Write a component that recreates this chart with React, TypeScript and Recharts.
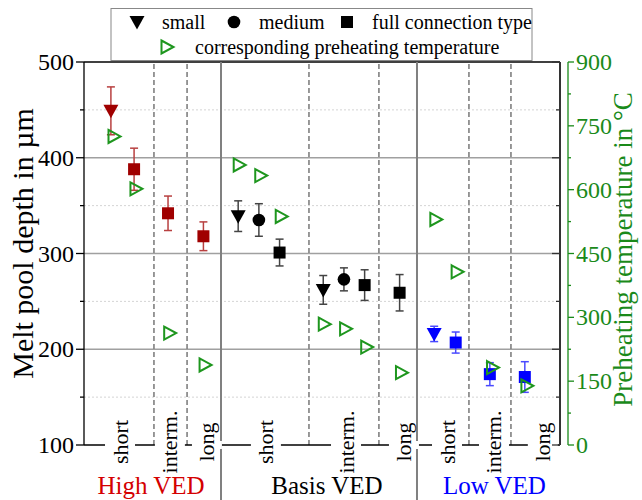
import React from "react";
import { ComposedChart, Scatter, XAxis, YAxis, ErrorBar, ReferenceLine } from "recharts";

const FONT = '"Liberation Serif", "Times New Roman", serif';
const GREEN = "#1e961e";
const AXIS_GREEN = "#1a8a1a";

// category axis in slot units (0..23)
const subTickPos = [1.74, 4.15, 5.94, 8.79, 12.66, 15.46, 17.54, 19.81, 22.17];
const subTickLabels = ["short", "interm.", "long", "short", "interm.", "long", "short", "interm.", "long"];
const groupPos = [3.24, 11.74, 19.83];
const groupLabels = ["High VED", "Basis VED", "Low VED"];
const groupColors = ["#d40000", "#000000", "#0000ff"];
const dashedDividers = [3.38, 4.98, 10.87, 14.25, 18.6, 20.63];
const solidDividers = [6.62, 16.09];

const depthTicks = [100, 150, 200, 250, 300, 350, 400, 450, 500];
const tempTicks = [0, 75, 150, 225, 300, 375, 450, 525, 600, 675, 750, 825, 900];

// melt pool depth in µm (mean, std)
const highSmallX = [1.3];
const highSmallDepth = [449];
const highSmallErr = [25];
const highFullX = [2.42, 4.06, 5.77];
const highFullDepth = [388, 342, 318];
const highFullErr = [22, 18, 15];

const basisSmallX = [7.45, 11.56];
const basisSmallDepth = [339, 262];
const basisSmallErr = [16, 15];
const basisMediumX = [8.45, 12.56];
const basisMediumDepth = [335, 273];
const basisMediumErr = [17, 12];
const basisFullX = [9.45, 13.56, 15.25];
const basisFullDepth = [301, 267, 259];
const basisFullErr = [14, 16, 19];

const lowSmallX = [16.92];
const lowSmallDepth = [216];
const lowSmallErr = [8];
const lowFullX = [17.96, 19.61, 21.3];
const lowFullDepth = [207, 174, 171];
const lowFullErr = [11, 12, 16];

// corresponding preheating temperature in °C
const tempX = [1.45, 2.51, 4.14, 5.85, 7.5, 8.54, 9.53, 11.61, 12.64, 13.66, 15.34, 17.0, 18.03, 19.74, 21.4];
const tempValues = [725, 602, 263, 188, 658, 633, 537, 284, 273, 230, 170, 530, 407, 182, 139];

const legendRow1 = [
  { label: "small", symbol: "down" },
  { label: "medium", symbol: "circle" },
  { label: "full connection type", symbol: "square" },
];
const legendRow2 = [{ label: "corresponding preheating temperature", symbol: "right" }];

type Pt = { x: number; y: number; err?: number };
const toPoints = (xs: number[], ys: number[], errs?: number[]): Pt[] =>
  xs.map((x, i) => ({ x, y: ys[i], err: errs ? errs[i] : undefined }));

const downTri = (color: string) => (p: any) =>
  <path d={`M${p.cx - 7.5},${p.cy - 6}L${p.cx + 7.5},${p.cy - 6}L${p.cx},${p.cy + 7.5}Z`} fill={color} />;
const square = (color: string) => (p: any) =>
  <rect x={p.cx - 6} y={p.cy - 6} width={12} height={12} fill={color} />;
const circle = (color: string) => (p: any) => <circle cx={p.cx} cy={p.cy} r={6.3} fill={color} />;
const rightTri = (p: any) => (
  <path
    d={`M${p.cx - 5.5},${p.cy - 6.5}L${p.cx + 6.5},${p.cy}L${p.cx - 5.5},${p.cy + 6.5}Z`}
    fill="none"
    stroke={GREEN}
    strokeWidth={2}
  />
);

const DepthTick = (props: any) => {
  const { x, y, payload } = props;
  const major = payload.value % 100 === 0;
  return (
    <g>
      <line x1={x} x2={x - (major ? 8 : 4)} y1={y} y2={y} stroke="#000" strokeWidth={1.3} />
      {major && (
        <text x={x - 10} y={y} textAnchor="end" dominantBaseline="central" fontSize={24} fontFamily={FONT} fill="#000">
          {payload.value}
        </text>
      )}
    </g>
  );
};

const FrameTick = (props: any) => {
  const { x, y, payload } = props;
  const major = payload.value % 100 === 0;
  return <line x1={x} x2={x - (major ? 8 : 4)} y1={y} y2={y} stroke="#333" strokeWidth={1.3} />;
};

const TempTick = (props: any) => {
  const { x, y, payload } = props;
  const major = payload.value % 150 === 0;
  return (
    <g>
      <line x1={x} x2={x + (major ? 6 : 3)} y1={y} y2={y} stroke={AXIS_GREEN} strokeWidth={1.3} />
      {major && (
        <text x={x + 8} y={y} textAnchor="start" dominantBaseline="central" fontSize={24} fontFamily={FONT} fill={AXIS_GREEN}>
          {payload.value}
        </text>
      )}
    </g>
  );
};

const SubTick = (props: any) => {
  const { x, y, payload } = props;
  const i = subTickPos.indexOf(payload.value);
  return (
    <g transform={`translate(${x},${y})`}>
      <rect x={-15} y={-4} width={30} height={8} fill="#fff" />
      <text
        transform="translate(0,-3) rotate(-90)"
        textAnchor="middle"
        dominantBaseline="central"
        fontSize={22}
        fontFamily={FONT}
        fill="#000"
      >
        {subTickLabels[i]}
      </text>
    </g>
  );
};

const GroupTick = (props: any) => {
  const { x, y, payload } = props;
  const i = groupPos.indexOf(payload.value);
  return (
    <text x={x} y={y + 19} textAnchor="middle" fontSize={25} fontFamily={FONT} fill={groupColors[i]}>
      {groupLabels[i]}
    </text>
  );
};

const extendedLine = (p: any) => (
  <line x1={p.x1} x2={p.x2} y1={Math.min(p.y1, p.y2)} y2={Math.max(p.y1, p.y2) + 56} stroke="#808080" strokeWidth={2} />
);

const LegendSymbol = ({ kind, cx, cy }: { kind: string; cx: number; cy: number }) => {
  if (kind === "down") return downTri("#000")({ cx, cy });
  if (kind === "circle") return circle("#000")({ cx, cy });
  if (kind === "square") return square("#000")({ cx, cy });
  return rightTri({ cx, cy });
};

function LegendBox() {
  const row1X = [137, 234, 347];
  return (
    <svg width={642} height={64} style={{ position: "absolute", left: 0, top: 0 }}>
      <rect x={111} y={8.5} width={421} height={52} fill="#fff" stroke="#888" strokeWidth={1} />
      {legendRow1.map((item, i) => (
        <g key={item.label}>
          <LegendSymbol kind={item.symbol} cx={row1X[i]} cy={22} />
          <text x={row1X[i] + 25} y={22} dominantBaseline="central" fontSize={20} fontFamily={FONT}>
            {item.label}
          </text>
        </g>
      ))}
      {legendRow2.map((item) => (
        <g key={item.label}>
          <LegendSymbol kind={item.symbol} cx={167} cy={47} />
          <text x={195} y={47} dominantBaseline="central" fontSize={20} fontFamily={FONT}>
            {item.label}
          </text>
        </g>
      ))}
    </svg>
  );
}

export default function App() {
  return (
    <div style={{ position: "absolute", left: 0, top: 0, width: 642, height: 500, background: "#fff" }}>
      <ComposedChart width={642} height={500} margin={{ top: 62, right: 0, bottom: 0, left: 0 }}>
        <XAxis
          xAxisId="cat"
          type="number"
          dataKey="x"
          domain={[0, 23]}
          ticks={subTickPos}
          tick={<SubTick />}
          tickLine={false}
          tickSize={0}
          tickMargin={0}
          height={30}
          axisLine={{ stroke: "#000", strokeWidth: 1.3 }}
          allowDataOverflow
          interval={0}
        />
        <XAxis
          xAxisId="grp"
          type="number"
          dataKey="x"
          domain={[0, 23]}
          ticks={groupPos}
          tick={<GroupTick />}
          tickLine={false}
          tickSize={0}
          tickMargin={0}
          height={25}
          axisLine={false}
          allowDataOverflow
          interval={0}
        />
        <YAxis
          yAxisId="depth"
          domain={[100, 500]}
          ticks={depthTicks}
          tick={<DepthTick />}
          tickLine={false}
          tickSize={0}
          tickMargin={0}
          width={84}
          interval={0}
          axisLine={{ stroke: "#000", strokeWidth: 1.3 }}
          allowDataOverflow
          label={(p: any) => (
            <text
              transform={`translate(22,${p.viewBox.y + p.viewBox.height / 2 - 10}) rotate(-90)`}
              textAnchor="middle"
              dominantBaseline="central"
              fontSize={30}
              fontFamily={FONT}
              fill="#000"
            >
              Melt pool depth in µm
            </text>
          )}
        />
        <YAxis
          yAxisId="frame"
          orientation="right"
          domain={[100, 500]}
          ticks={depthTicks}
          tick={<FrameTick />}
          tickLine={false}
          tickSize={0}
          tickMargin={0}
          width={8}
          interval={0}
          axisLine={{ stroke: "#333", strokeWidth: 2 }}
          allowDataOverflow
        />
        <YAxis
          yAxisId="temp"
          orientation="right"
          domain={[0, 900]}
          ticks={tempTicks}
          tick={<TempTick />}
          tickLine={false}
          tickSize={0}
          tickMargin={0}
          width={74}
          interval={0}
          axisLine={{ stroke: AXIS_GREEN, strokeWidth: 1.3 }}
          allowDataOverflow
          label={(p: any) => (
            <text
              transform={`translate(623,${p.viewBox.y + p.viewBox.height / 2 - 4}) rotate(-90)`}
              textAnchor="middle"
              dominantBaseline="central"
              fontSize={27}
              fontFamily={FONT}
              fill={AXIS_GREEN}
            >
              Preheating temperature in °C
            </text>
          )}
        />

        {[150, 250, 350, 450].map((v) => (
          <ReferenceLine key={`m${v}`} xAxisId="cat" yAxisId="depth" y={v} stroke="#d4d4d4" strokeDasharray="2 2" />
        ))}
        {[200, 300, 400].map((v) => (
          <ReferenceLine key={`M${v}`} xAxisId="cat" yAxisId="depth" y={v} stroke="#a0a0a0" strokeWidth={1.3} />
        ))}
        <ReferenceLine xAxisId="cat" yAxisId="depth" y={500} stroke="#000" strokeWidth={1.3} />
        {dashedDividers.map((v) => (
          <ReferenceLine key={`d${v}`} xAxisId="cat" yAxisId="depth" x={v} stroke="#808080" strokeWidth={1.6} strokeDasharray="5 3" />
        ))}
        {solidDividers.map((v) => (
          <ReferenceLine key={`s${v}`} xAxisId="cat" yAxisId="depth" x={v} shape={extendedLine} />
        ))}

        <Scatter xAxisId="cat" yAxisId="depth" dataKey="y" data={toPoints(highSmallX, highSmallDepth, highSmallErr)} shape={downTri("#a00000")} isAnimationActive={false}>
          <ErrorBar dataKey="err" direction="y" width={4} stroke="#b84040" strokeWidth={1.5} isAnimationActive={false} />
        </Scatter>
        <Scatter xAxisId="cat" yAxisId="depth" dataKey="y" data={toPoints(highFullX, highFullDepth, highFullErr)} shape={square("#a00000")} isAnimationActive={false}>
          <ErrorBar dataKey="err" direction="y" width={4} stroke="#b84040" strokeWidth={1.5} isAnimationActive={false} />
        </Scatter>
        <Scatter xAxisId="cat" yAxisId="depth" dataKey="y" data={toPoints(basisSmallX, basisSmallDepth, basisSmallErr)} shape={downTri("#000")} isAnimationActive={false}>
          <ErrorBar dataKey="err" direction="y" width={4} stroke="#444" strokeWidth={1.5} isAnimationActive={false} />
        </Scatter>
        <Scatter xAxisId="cat" yAxisId="depth" dataKey="y" data={toPoints(basisMediumX, basisMediumDepth, basisMediumErr)} shape={circle("#000")} isAnimationActive={false}>
          <ErrorBar dataKey="err" direction="y" width={4} stroke="#444" strokeWidth={1.5} isAnimationActive={false} />
        </Scatter>
        <Scatter xAxisId="cat" yAxisId="depth" dataKey="y" data={toPoints(basisFullX, basisFullDepth, basisFullErr)} shape={square("#000")} isAnimationActive={false}>
          <ErrorBar dataKey="err" direction="y" width={4} stroke="#444" strokeWidth={1.5} isAnimationActive={false} />
        </Scatter>
        <Scatter xAxisId="cat" yAxisId="depth" dataKey="y" data={toPoints(lowSmallX, lowSmallDepth, lowSmallErr)} shape={downTri("#0000ff")} isAnimationActive={false}>
          <ErrorBar dataKey="err" direction="y" width={4} stroke="#4a4aff" strokeWidth={1.5} isAnimationActive={false} />
        </Scatter>
        <Scatter xAxisId="cat" yAxisId="depth" dataKey="y" data={toPoints(lowFullX, lowFullDepth, lowFullErr)} shape={square("#0000ff")} isAnimationActive={false}>
          <ErrorBar dataKey="err" direction="y" width={4} stroke="#4a4aff" strokeWidth={1.5} isAnimationActive={false} />
        </Scatter>
        <Scatter xAxisId="cat" yAxisId="temp" dataKey="y" data={toPoints(tempX, tempValues)} shape={rightTri} isAnimationActive={false} />
      </ComposedChart>
      <LegendBox />
    </div>
  );
}
